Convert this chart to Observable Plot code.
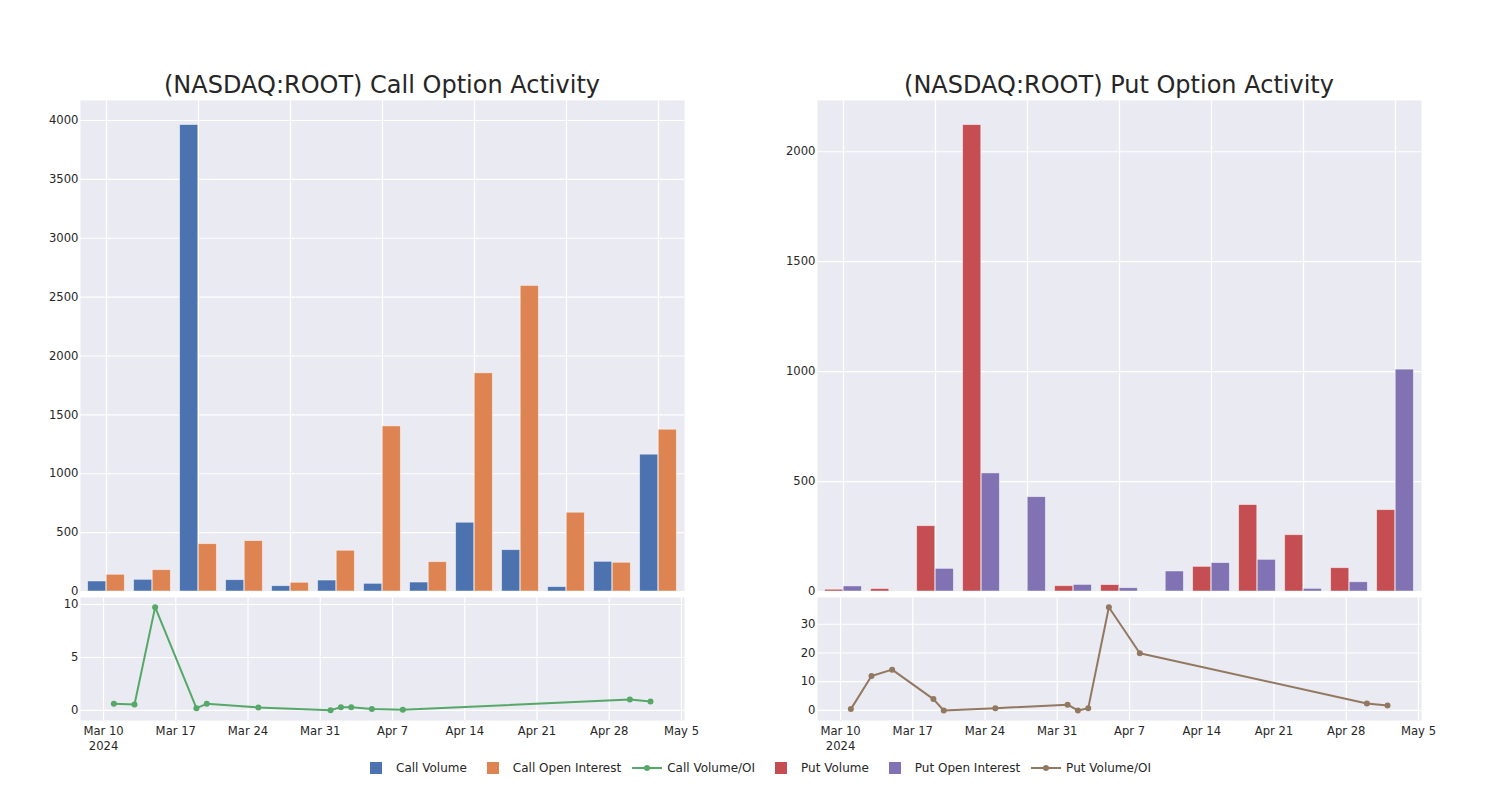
<!DOCTYPE html>
<html>
<head>
<meta charset="utf-8">
<script src="https://cdn.jsdelivr.net/npm/d3@7"></script>
<script src="https://cdn.jsdelivr.net/npm/@observablehq/plot@0.6"></script>
<style>
  body { margin: 0; background: #fff; font-family: "DejaVu Sans", sans-serif; }
  #root { position: relative; width: 1500px; height: 800px; overflow: hidden; background: #fff; }
  .title { position: absolute; top: 73px; width: 604px; text-align: center; font-size: 24px; line-height: 24px; color: #262626; white-space: nowrap; }
  .panel { position: absolute; }
  #legend { position: absolute; left: 361px; top: 761px; height: 14px; display: flex; align-items: center; font-size: 12px; color: #262626; white-space: nowrap; }
  .item { display: flex; align-items: center; margin-right: 11px; }
  .handle { width: 30px; height: 14px; position: relative; margin-right: 5px; }
  .sq { position: absolute; left: 9px; top: 1px; width: 12px; height: 12px; }
  .ln { position: absolute; left: 0; top: 6px; width: 30px; height: 2px; }
  .dt { position: absolute; left: 12px; top: 4px; width: 6px; height: 6px; border-radius: 50%; }
</style>
</head>
<body>
<div id="root">
  <div class="title" style="left:80px">(NASDAQ:ROOT) Call Option Activity</div>
  <div class="title" style="left:817px">(NASDAQ:ROOT) Put Option Activity</div>
  <div class="panel" id="tl" style="left:0px;top:90px"></div>
  <div class="panel" id="tr" style="left:737px;top:90px"></div>
  <div class="panel" id="bl" style="left:0px;top:587px"></div>
  <div class="panel" id="br" style="left:737px;top:587px"></div>
  <div id="legend"></div>
</div>
<script>
// ---- data ----
const dates = ["2024-03-11","2024-03-13","2024-03-15","2024-03-19","2024-03-20","2024-03-25",
               "2024-04-01","2024-04-02","2024-04-03","2024-04-05","2024-04-08","2024-04-30","2024-05-02"];
const callVolume       = [85, 99, 3961, 96, 45, 93, 65, 76, 584, 351, 37, 252, 1162];
const callOpenInterest = [142, 181, 402, 428, 74, 346, 1402, 249, 1853, 2595, 669, 244, 1374];
const callVolOI        = [0.63, 0.57, 9.75, 0.22, 0.63, 0.28, 0.03, 0.31, 0.31, 0.13, 0.06, 1.04, 0.85];
const putVolume        = [8, 11, 297, 2121, 0, 24, 29, 0, 112, 393, 256, 106, 370];
const putOpenInterest  = [23, 0, 103, 537, 429, 30, 15, 91, 129, 144, 12, 42, 1009];
const putVolOI         = [0.47, 12.0, 14.2, 3.95, 0.0, 0.8, 2.0, 0.0, 0.8, 35.9, 19.9, 2.45, 1.75];
const callBarTicks = [0, 500, 1000, 1500, 2000, 2500, 3000, 3500, 4000];
const putBarTicks  = [0, 500, 1000, 1500, 2000];
const callLineTicks = [0, 5, 10];
const putLineTicks  = [0, 10, 20, 30];
const dateTicks = ["2024-03-10","2024-03-17","2024-03-24","2024-03-31","2024-04-07","2024-04-14","2024-04-21","2024-04-28","2024-05-05"];

const colors = {
  callVolume: "#4C72B0", callOI: "#DD8452", callRatio: "#55A868",
  putVolume: "#C44E52", putOI: "#8172B3", putRatio: "#937860"
};

const BG = "#EAEAF2";
const W = 700, ML = 80, MR = 16;
const innerW = W - ML - MR;
const style = { fontFamily: "DejaVu Sans, sans-serif", fontSize: "11.6px", color: "#262626", background: "transparent", overflow: "visible" };
const plainNum = d => String(d);

function barPanel(s1, s2, c1, c2, yMax, yTicks) {
  const rows = dates.map((d, i) => ({ d, a: s1[i], b: s2[i] }));
  const bw = innerW / dates.length;
  const gridCats = dates.filter((d, i) => i % 2 === 0);
  return Plot.plot({
    width: W, height: 503,
    marginLeft: ML, marginRight: MR, marginTop: 10, marginBottom: 2,
    style,
    x: { type: "band", domain: dates, padding: 0, axis: null },
    y: { domain: [0, yMax], axis: null },
    marks: [
      Plot.frame({ fill: BG, stroke: "none" }),
      Plot.gridX(gridCats, { stroke: "white", strokeOpacity: 1, strokeWidth: 1.2 }),
      Plot.gridY(yTicks, { stroke: "white", strokeOpacity: 1, strokeWidth: 1.2 }),
      Plot.barY(rows, { x: "d", y: "a", fill: c1, insetLeft: bw * 0.1, insetRight: bw * 0.5, stroke: "white", strokeWidth: 0.8, strokeOpacity: 0.55 }),
      Plot.barY(rows, { x: "d", y: "b", fill: c2, insetLeft: bw * 0.5, insetRight: bw * 0.1, stroke: "white", strokeWidth: 0.8, strokeOpacity: 0.55 }),
      Plot.axisY(yTicks, { tickSize: 0, tickPadding: 2, tickFormat: plainNum, label: null })
    ]
  });
}

const fmtTick = d => {
  const m = d3.utcFormat("%b")(d), day = d.getUTCDate();
  const s = m + " " + day;
  return (m === "Mar" && day === 10) ? s + "\n2024" : s;
};
const xDomain = [new Date(Date.UTC(2024, 2, 7, 18, 26)), new Date(Date.UTC(2024, 4, 5, 7, 0))];

function linePanel(vals, color, yDomain, yTicks) {
  const rows = dates.map((d, i) => ({ d: new Date(d + "T00:00:00Z"), v: vals[i] }));
  const ticks = dateTicks.map(t => new Date(t + "T00:00:00Z"));
  return Plot.plot({
    width: W, height: 173,
    marginLeft: ML, marginRight: MR, marginTop: 10, marginBottom: 40,
    style,
    x: { type: "utc", domain: xDomain, axis: null },
    y: { domain: yDomain, axis: null },
    marks: [
      Plot.frame({ fill: BG, stroke: "none" }),
      Plot.gridX(ticks, { stroke: "white", strokeOpacity: 1, strokeWidth: 1.2 }),
      Plot.gridY(yTicks, { stroke: "white", strokeOpacity: 1, strokeWidth: 1.2 }),
      Plot.line(rows, { x: "d", y: "v", stroke: color, strokeWidth: 2 }),
      Plot.dot(rows, { x: "d", y: "v", fill: color, r: 3 }),
      Plot.axisX(ticks, { tickSize: 0, tickPadding: 3, tickFormat: fmtTick, lineHeight: 1.35, label: null }),
      Plot.axisY(yTicks, { tickSize: 0, tickPadding: 2, tickFormat: plainNum, label: null })
    ]
  });
}

document.getElementById("tl").append(barPanel(callVolume, callOpenInterest, colors.callVolume, colors.callOI, 4170, callBarTicks));
document.getElementById("tr").append(barPanel(putVolume, putOpenInterest, colors.putVolume, colors.putOI, 2233, putBarTicks));
document.getElementById("bl").append(linePanel(callVolOI, colors.callRatio, [-0.946, 10.66], callLineTicks));
document.getElementById("br").append(linePanel(putVolOI, colors.putRatio, [-3.49, 39.3], putLineTicks));

// legend
const legendItems = [
  { label: "Call Volume", color: colors.callVolume, kind: "sq" },
  { label: "Call Open Interest", color: colors.callOI, kind: "sq" },
  { label: "Call Volume/OI", color: colors.callRatio, kind: "ln" },
  { label: "Put Volume", color: colors.putVolume, kind: "sq" },
  { label: "Put Open Interest", color: colors.putOI, kind: "sq" },
  { label: "Put Volume/OI", color: colors.putRatio, kind: "ln" }
];
const leg = document.getElementById("legend");
for (const it of legendItems) {
  const item = document.createElement("div"); item.className = "item";
  const h = document.createElement("div"); h.className = "handle";
  if (it.kind === "sq") {
    h.innerHTML = `<div class="sq" style="background:${it.color}"></div>`;
  } else {
    h.innerHTML = `<div class="ln" style="background:${it.color}"></div><div class="dt" style="background:${it.color}"></div>`;
  }
  const t = document.createElement("span"); t.textContent = it.label;
  item.append(h, t); leg.append(item);
}
</script>
</body>
</html>
